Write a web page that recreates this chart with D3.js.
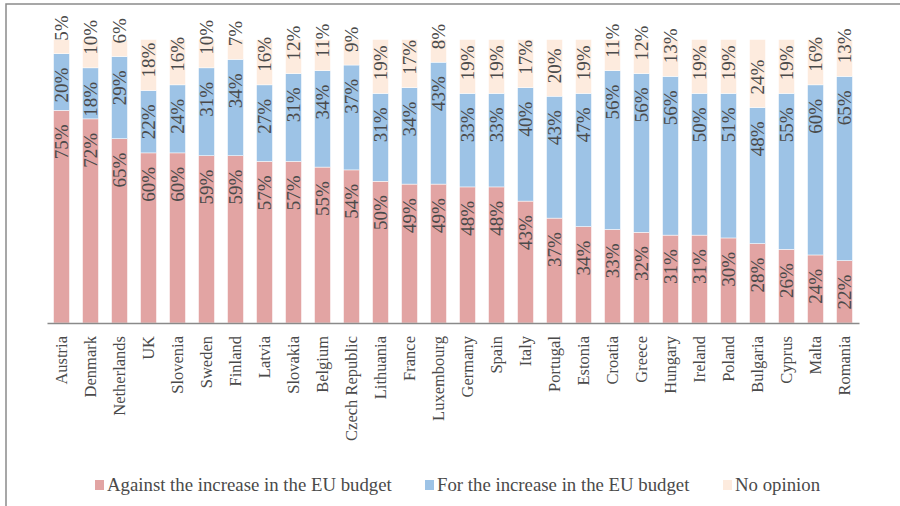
<!DOCTYPE html>
<html>
<head>
<meta charset="utf-8">
<script src="https://cdn.jsdelivr.net/npm/d3@7"></script>
<style>
  html, body { margin: 0; padding: 0; background: #ffffff; }
  svg { display: block; }
</style>
</head>
<body>
<svg id="chart" width="900" height="506"></svg>
<script>
const categories = ["Austria","Denmark","Netherlands","UK","Slovenia","Sweden","Finland","Latvia","Slovakia","Belgium","Czech Republic","Lithuania","France","Luxembourg","Germany","Spain","Italy","Portugal","Estonia","Croatia","Greece","Hungary","Ireland","Poland","Bulgaria","Cyprus","Malta","Romania"];
const against   = [75,72,65,60,60,59,59,57,57,55,54,50,49,49,48,48,43,37,34,33,32,31,31,30,28,26,24,22];
const forIncrease = [20,18,29,22,24,31,34,27,31,34,37,31,34,43,33,33,40,43,47,56,56,56,50,51,48,55,60,65];
const noOpinion = [5,10,6,18,16,10,7,16,12,11,9,19,17,8,19,19,17,20,19,11,12,13,19,19,24,19,16,13];
const seriesNames = ["Against the increase in the EU budget","For the increase in the EU budget","No opinion"];
const colors = ["#E2A4A3","#9DC3E6","#FDEBDE"];

const svg = d3.select("#chart");
const serif = "'Liberation Serif', 'Times New Roman', serif";
const textColor = "#4a4a4a";

// frame
svg.append("rect").attr("x",6).attr("y",4).attr("width",1000).attr("height",1000)
  .attr("fill","none").attr("stroke","#8a8a8a").attr("stroke-width",1.5);

const x = d3.scaleBand().domain(categories).range([47,859]).paddingInner(0.45).paddingOuter(0.225);
const y = d3.scaleLinear().domain([0,100]).range([323,39.5]);

const rows = categories.map((c,i)=>({cat:c, a:against[i], f:forIncrease[i], n:noOpinion[i]}));
const stack = d3.stack().keys(["a","f","n"])(rows);

const g = svg.append("g");
stack.forEach((layer, li) => {
  const lg = g.append("g").attr("fill", colors[li]);
  lg.selectAll("rect").data(layer).join("rect")
    .attr("x", d => x(d.data.cat))
    .attr("width", x.bandwidth())
    .attr("y", d => y(d[1]))
    .attr("height", d => y(d[0]) - y(d[1]))
    .attr("stroke","#ffffff").attr("stroke-width",0.5);
});

// data labels
stack.forEach((layer, li) => {
  const lg = g.append("g").attr("font-family", serif).attr("font-size", 19).attr("fill", textColor);
  lg.selectAll("text").data(layer).join("text")
    .attr("transform", d => {
      const cx = x(d.data.cat) + x.bandwidth()/2;
      const cy = li < 2 ? y(d[1]) + 14 : y(d[0]) - 13;
      return `translate(${cx},${cy}) rotate(-90)`;
    })
    .attr("text-anchor", li < 2 ? "end" : "start")
    .attr("dy","0.35em")
    .text(d => (d[1]-d[0]) + "%");
});

// axis
const axis = svg.append("g").attr("transform","translate(0,323)")
  .call(d3.axisBottom(x).tickSize(0).tickSizeOuter(0));
axis.select(".domain").attr("stroke","#8a8a8a").attr("stroke-width",1.5);
axis.selectAll(".tick text")
  .attr("font-family", serif).attr("font-size", 16.5).attr("fill", textColor)
  .attr("transform","rotate(-90)")
  .attr("text-anchor","end")
  .attr("x",-13).attr("y",0).attr("dy","0.35em");

// legend
const legendX = [95, 425, 723];
const lgd = svg.append("g");
seriesNames.forEach((name,i) => {
  lgd.append("rect").attr("x", legendX[i]).attr("y", 480).attr("width", 9).attr("height", 10).attr("fill", colors[i]);
  lgd.append("text").attr("x", legendX[i] + 12).attr("y", 491)
    .attr("font-family", serif).attr("font-size", 18.8).attr("fill", textColor)
    .text(name);
});
</script>
</body>
</html>
